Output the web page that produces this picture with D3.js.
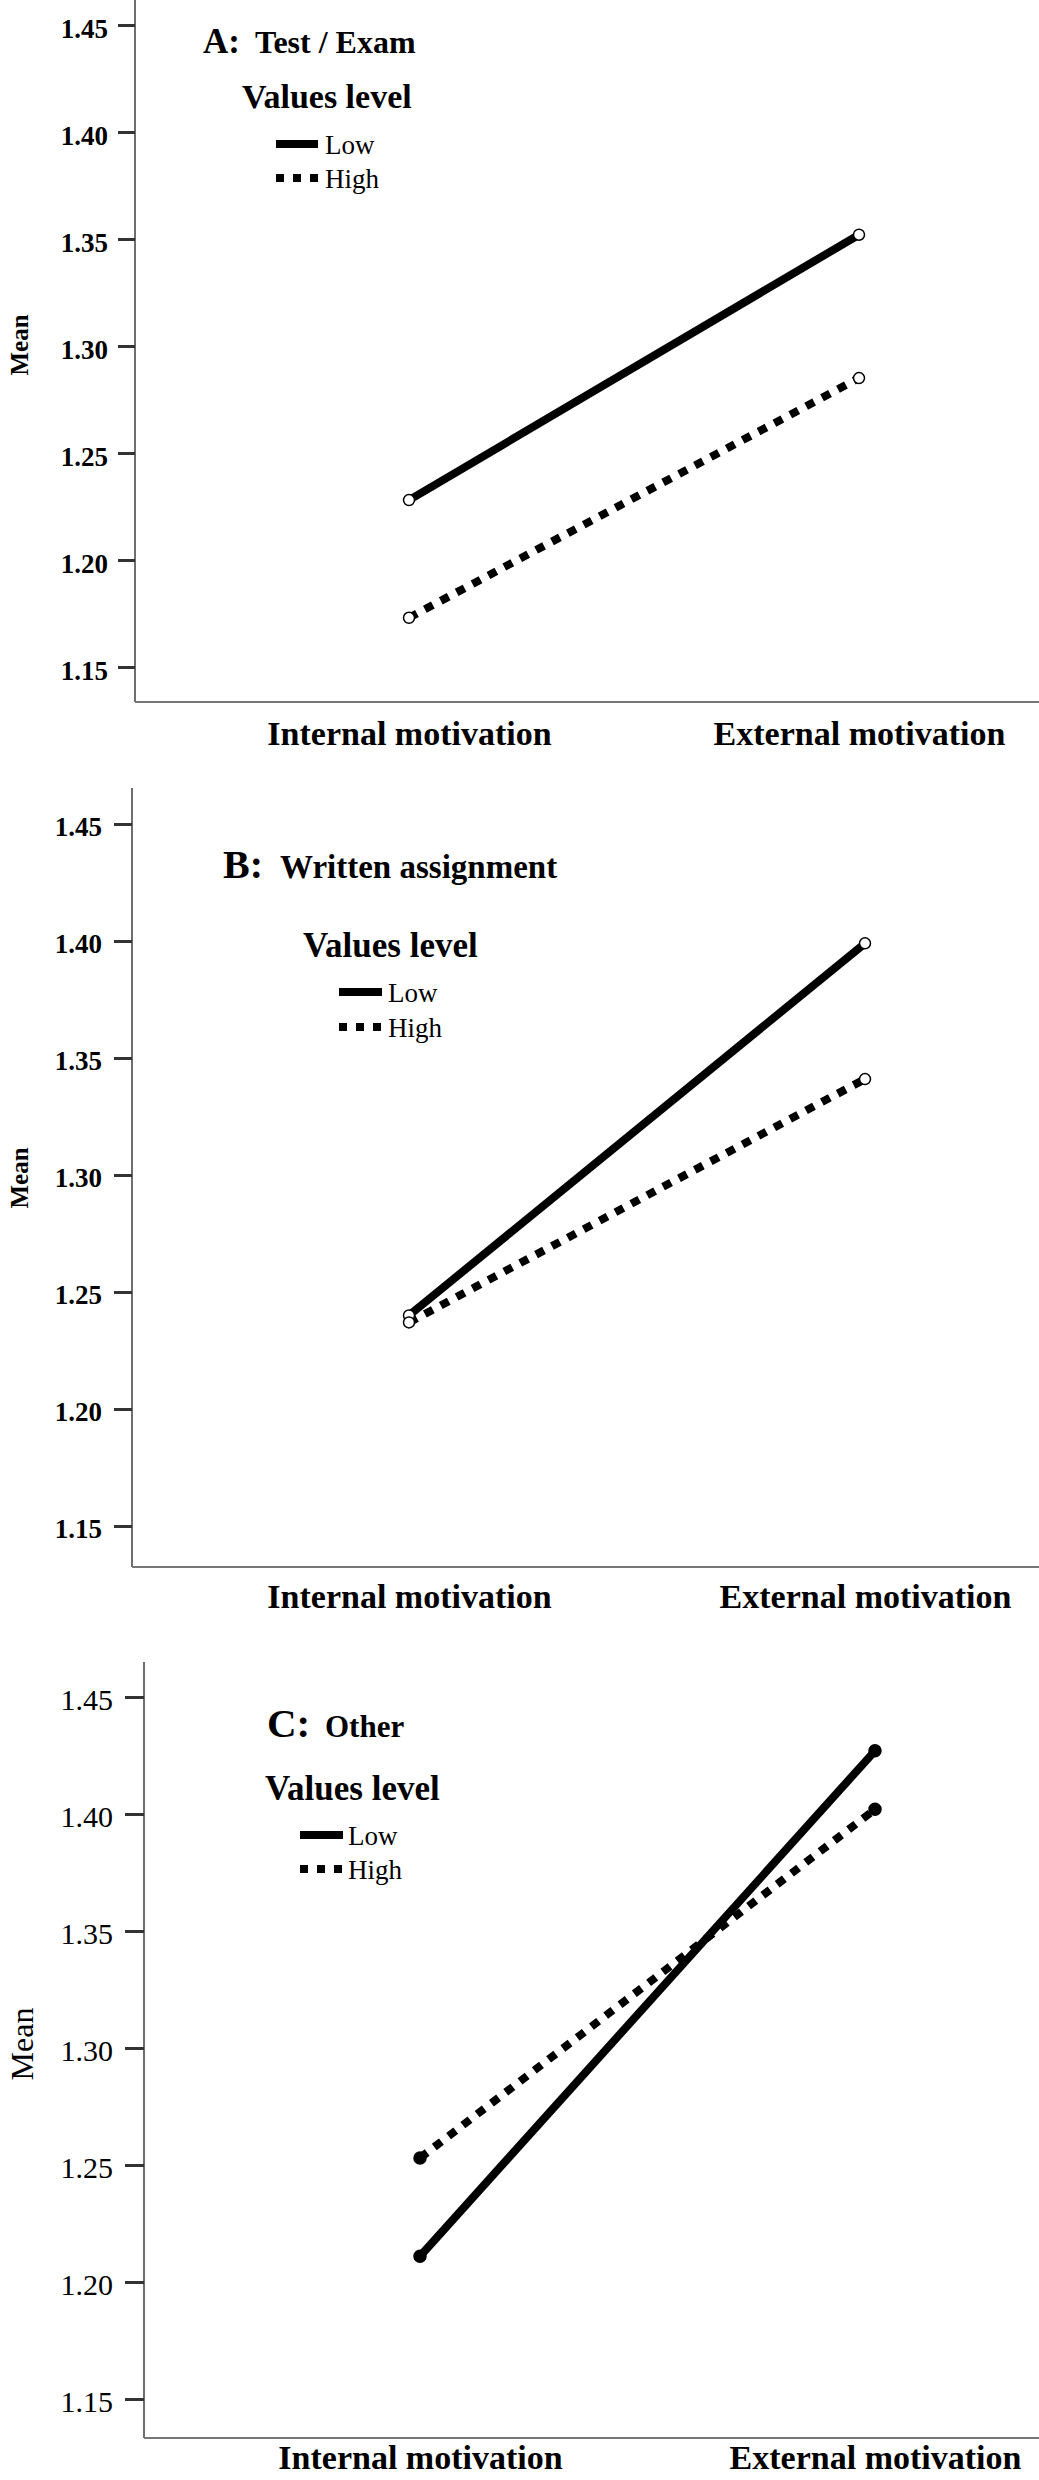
<!DOCTYPE html>
<html>
<head>
<meta charset="utf-8">
<script src="https://cdn.jsdelivr.net/npm/d3@7"></script>
<style>
  body { margin: 0; background: #fff; }
  svg { display: block; }
  text { font-family: "Liberation Serif", "Times New Roman", serif; fill: #000; }
</style>
</head>
<body>
<div id="chart"></div>
<script>
// Categories and series
var categories = ["Internal motivation", "External motivation"];
var levels = ["Low", "High"];
var yTicks = [1.15, 1.20, 1.25, 1.30, 1.35, 1.40, 1.45];

var testLow = [1.228, 1.352];
var testHigh = [1.173, 1.285];
var writtenLow = [1.240, 1.399];
var writtenHigh = [1.237, 1.341];
var otherLow = [1.211, 1.427];
var otherHigh = [1.253, 1.402];

var svgWidth = 1039;
var svgHeight = 2480;

var svg = d3.select("#chart")
  .append("svg")
  .attr("width", svgWidth)
  .attr("height", svgHeight);

svg.append("rect").attr("width", svgWidth).attr("height", svgHeight).attr("fill", "#fff");

// Layout of the three stacked panels
var panels = [
  {
    letter: "A:", name: "Test / Exam", low: testLow, high: testHigh,
    axisX: 135, top: 0, bottom: 702, y145: 25, y115: 667, xPts: [409, 859],
    tickLen: 17, tickPad: 10, tickFont: "bold", tickSize: 27, tickDy: 12,
    title: { x: 203, y: 53, s1: 35, x2: 255, s2: 32 },
    legend: { x: 242, y: 108, size: 34, lx1: 276, lx2: 318, rows: [144, 178], tx: 325 },
    xLabelY: 745, mean: { x: 19, y: 345, size: 25, weight: "bold" }, filled: false
  },
  {
    letter: "B:", name: "Written assignment", low: writtenLow, high: writtenHigh,
    axisX: 132, top: 788, bottom: 1567, y145: 824, y115: 1526, xPts: [409, 865],
    tickLen: 18, tickPad: 12, tickFont: "bold", tickSize: 27, tickDy: 11,
    title: { x: 223, y: 878, s1: 40, x2: 280, s2: 33 },
    legend: { x: 303, y: 957, size: 35, lx1: 339, lx2: 382, rows: [992, 1027], tx: 388 },
    xLabelY: 1608, mean: { x: 19, y: 1178, size: 25, weight: "bold" }, filled: false
  },
  {
    letter: "C:", name: "Other", low: otherLow, high: otherHigh,
    axisX: 144, top: 1662, bottom: 2438, y145: 1697, y115: 2399, xPts: [420, 875],
    tickLen: 19, tickPad: 12, tickFont: "normal", tickSize: 30, tickDy: 12,
    title: { x: 267, y: 1737, s1: 41, x2: 325, s2: 31 },
    legend: { x: 265, y: 1800, size: 35, lx1: 300, lx2: 343, rows: [1835, 1869], tx: 348 },
    xLabelY: 2469, mean: { x: 22, y: 2044, size: 32, weight: "normal" }, filled: true
  }
];

var dashes = { Low: null, High: "9,9" };
var legendDashes = { Low: null, High: "8,9" };

function drawPanel(p) {
  var g = svg.append("g");

  var yScale = d3.scaleLinear()
    .domain([1.15, 1.45])
    .range([p.y115, p.y145]);

  var xScale = d3.scalePoint()
    .domain(categories)
    .range(p.xPts);

  // axis lines
  g.append("line")
    .attr("x1", p.axisX).attr("x2", p.axisX)
    .attr("y1", p.top).attr("y2", p.bottom)
    .attr("stroke", "#6e6e6e").attr("stroke-width", 2);
  g.append("line")
    .attr("x1", p.axisX).attr("x2", svgWidth)
    .attr("y1", p.bottom).attr("y2", p.bottom)
    .attr("stroke", "#777").attr("stroke-width", 2);

  // y axis ticks
  var leftAxis = d3.axisLeft(yScale)
    .tickValues(yTicks)
    .tickFormat(d3.format(".2f"))
    .tickSize(p.tickLen)
    .tickPadding(p.tickPad);

  var yAxis = g.append("g")
    .attr("transform", `translate(${p.axisX}, 0)`)
    .call(leftAxis);
  yAxis.attr("font-family", "Liberation Serif");
  yAxis.select(".domain").remove();
  yAxis.selectAll(".tick line")
    .attr("stroke", "#333").attr("stroke-width", 3);
  yAxis.selectAll(".tick text")
    .attr("dy", null)
    .attr("y", p.tickDy)
    .attr("font-family", "Liberation Serif")
    .attr("font-weight", p.tickFont)
    .attr("font-size", p.tickSize)
    .attr("fill", "#000");

  // x axis category labels
  var bottomAxis = d3.axisBottom(xScale).tickSize(0).tickPadding(0);
  var xAxis = g.append("g")
    .attr("transform", `translate(0, ${p.xLabelY})`)
    .call(bottomAxis);
  xAxis.attr("font-family", "Liberation Serif");
  xAxis.select(".domain").remove();
  xAxis.selectAll(".tick text")
    .attr("y", 0).attr("dy", null)
    .attr("font-family", "Liberation Serif")
    .attr("font-weight", "bold")
    .attr("font-size", 34)
    .attr("fill", "#000");

  // y axis title
  g.append("text")
    .attr("transform", `translate(${p.mean.x}, ${p.mean.y}) rotate(-90)`)
    .attr("text-anchor", "middle")
    .attr("dominant-baseline", "central")
    .attr("font-size", p.mean.size)
    .attr("font-weight", p.mean.weight)
    .text("Mean");

  // panel title
  var t = g.append("text").attr("y", p.title.y).attr("font-weight", "bold");
  t.append("tspan").attr("x", p.title.x).attr("font-size", p.title.s1).text(p.letter);
  t.append("tspan").attr("x", p.title.x2).attr("font-size", p.title.s2).text(p.name);

  // legend
  g.append("text")
    .attr("x", p.legend.x).attr("y", p.legend.y)
    .attr("font-size", p.legend.size).attr("font-weight", "bold")
    .text("Values level");

  levels.forEach(function(lev, i) {
    var ly = p.legend.rows[i];
    g.append("line")
      .attr("x1", p.legend.lx1).attr("x2", p.legend.lx2)
      .attr("y1", ly).attr("y2", ly)
      .attr("stroke", "#000").attr("stroke-width", 8)
      .attr("stroke-dasharray", legendDashes[lev]);
    g.append("text")
      .attr("x", p.legend.tx).attr("y", ly + 10)
      .attr("font-size", 27)
      .text(lev);
  });

  // series lines
  var series = [{ level: "Low", values: p.low }, { level: "High", values: p.high }];
  var lineFn = d3.line()
    .x(function(d, i) { return xScale(categories[i]); })
    .y(function(d) { return yScale(d); });

  series.forEach(function(s) {
    g.append("path")
      .attr("d", lineFn(s.values))
      .attr("fill", "none")
      .attr("stroke", "#000")
      .attr("stroke-width", 8)
      .attr("stroke-dasharray", dashes[s.level]);
  });

  // markers
  series.forEach(function(s) {
    g.selectAll(null)
      .data(s.values)
      .enter()
      .append("circle")
      .attr("cx", function(d, i) { return xScale(categories[i]); })
      .attr("cy", function(d) { return yScale(d); })
      .attr("r", p.filled ? 6 : 5.5)
      .attr("fill", p.filled ? "#000" : "#fff")
      .attr("stroke", "#000")
      .attr("stroke-width", 1.5);
  });
}

panels.forEach(drawPanel);
</script>
</body>
</html>
